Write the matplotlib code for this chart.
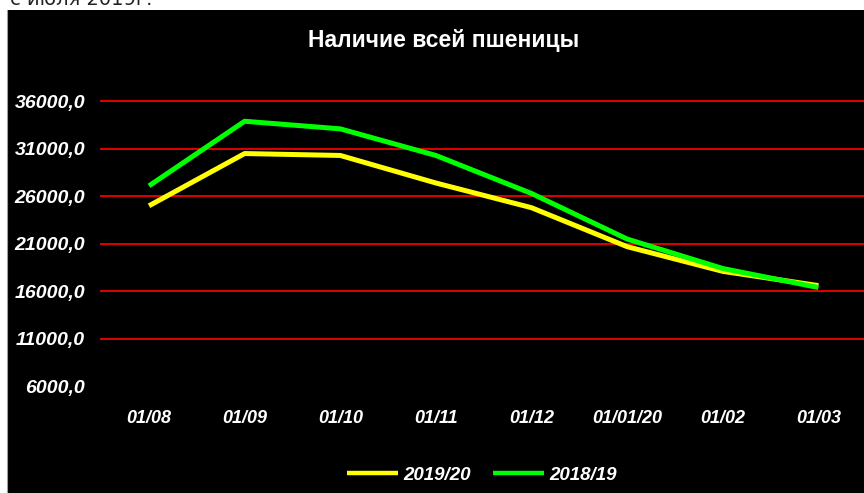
import matplotlib
matplotlib.use('Agg')
import matplotlib.pyplot as plt
from matplotlib.patches import Rectangle
from matplotlib.lines import Line2D

# данные
months = ['01/08', '01/09', '01/10', '01/11', '01/12', '01/01/20', '01/02', '01/03']
season_1920 = [25000, 30500, 30300, 27400, 24800, 20700, 18100, 16600]
season_1819 = [27100, 33900, 33100, 30300, 26300, 21500, 18400, 16400]
y_ticks = [6000, 11000, 16000, 21000, 26000, 31000, 36000]
y_labels = ['6000,0', '11000,0', '16000,0', '21000,0', '26000,0', '31000,0', '36000,0']

W, H = 864, 493
fig = plt.figure(figsize=(W / 100, H / 100), dpi=100, facecolor='white')

# черный фон диаграммы
fig.patches.append(Rectangle((7 / W, 0), 1 - 7 / W, 1 - 10 / H, transform=fig.transFigure,
                             facecolor='black', edgecolor='none', zorder=-5))
fig.lines.append(Line2D([6.5 / W, 6.5 / W], [0, 1 - 10 / H], transform=fig.transFigure,
                        color='#a0a0a0', lw=0.8, zorder=-4))

# обрезанный текст сверху
fig.text(10 / W, 1 - 5 / H, 'с июля 2019г.', fontsize=14, color='#222222',
         family='DejaVu Sans', va='baseline', ha='left')

ax = fig.add_axes([101.2 / W, 1 - 386.3 / H, 765 / W, (386.3 - 101.3) / H])
ax.set_zorder(2)
ax.set_facecolor('none')
for s in ax.spines.values():
    s.set_visible(False)

x = list(range(len(months)))
ax.plot(x, season_1920, color='#ffff00', lw=3.6, label='2019/20', solid_capstyle='butt', zorder=3)
ax.plot(x, season_1819, color='#00ff00', lw=3.6, label='2018/19', solid_capstyle='butt', zorder=4)

for v in y_ticks[1:]:
    ax.axhline(v, color='#e00000', lw=1.4, zorder=1, clip_on=False)

ax.set_xlim(-0.5, len(months) - 0.5)
ax.set_ylim(6000, 36000)
ax.set_yticks(y_ticks)
ax.set_yticklabels(y_labels)
ax.set_xticks(x)
ax.set_xticklabels(months)
ax.tick_params(axis='both', length=0, colors='white')
ax.tick_params(axis='y', pad=11.5)
ax.tick_params(axis='x', pad=17)
for t in ax.get_yticklabels():
    t.set_family('Liberation Sans')
    t.set_fontsize(14)
    t.set_fontweight('bold')
    t.set_fontstyle('italic')
for t in ax.get_xticklabels():
    t.set_family('Liberation Sans')
    t.set_fontsize(13)
    t.set_fontweight('bold')
    t.set_fontstyle('italic')

fig.text(444 / W, 1 - 46.5 / H, 'Наличие всей пшеницы', color='white', fontsize=16.5,
         fontweight='bold', family='Liberation Sans', ha='center', va='baseline')

leg = fig.legend(loc='center', bbox_to_anchor=(482 / W, 1 - 475 / H), ncol=2, frameon=False,
                 handlelength=2.7, columnspacing=1.2, handletextpad=0.3,
                 prop={'family': 'Liberation Sans', 'size': 13.5, 'weight': 'bold', 'style': 'italic'})
for t in leg.get_texts():
    t.set_color('white')
for h in leg.legend_handles:
    h.set_linewidth(3.2)

fig.savefig('out.png', dpi=100, facecolor='white')
